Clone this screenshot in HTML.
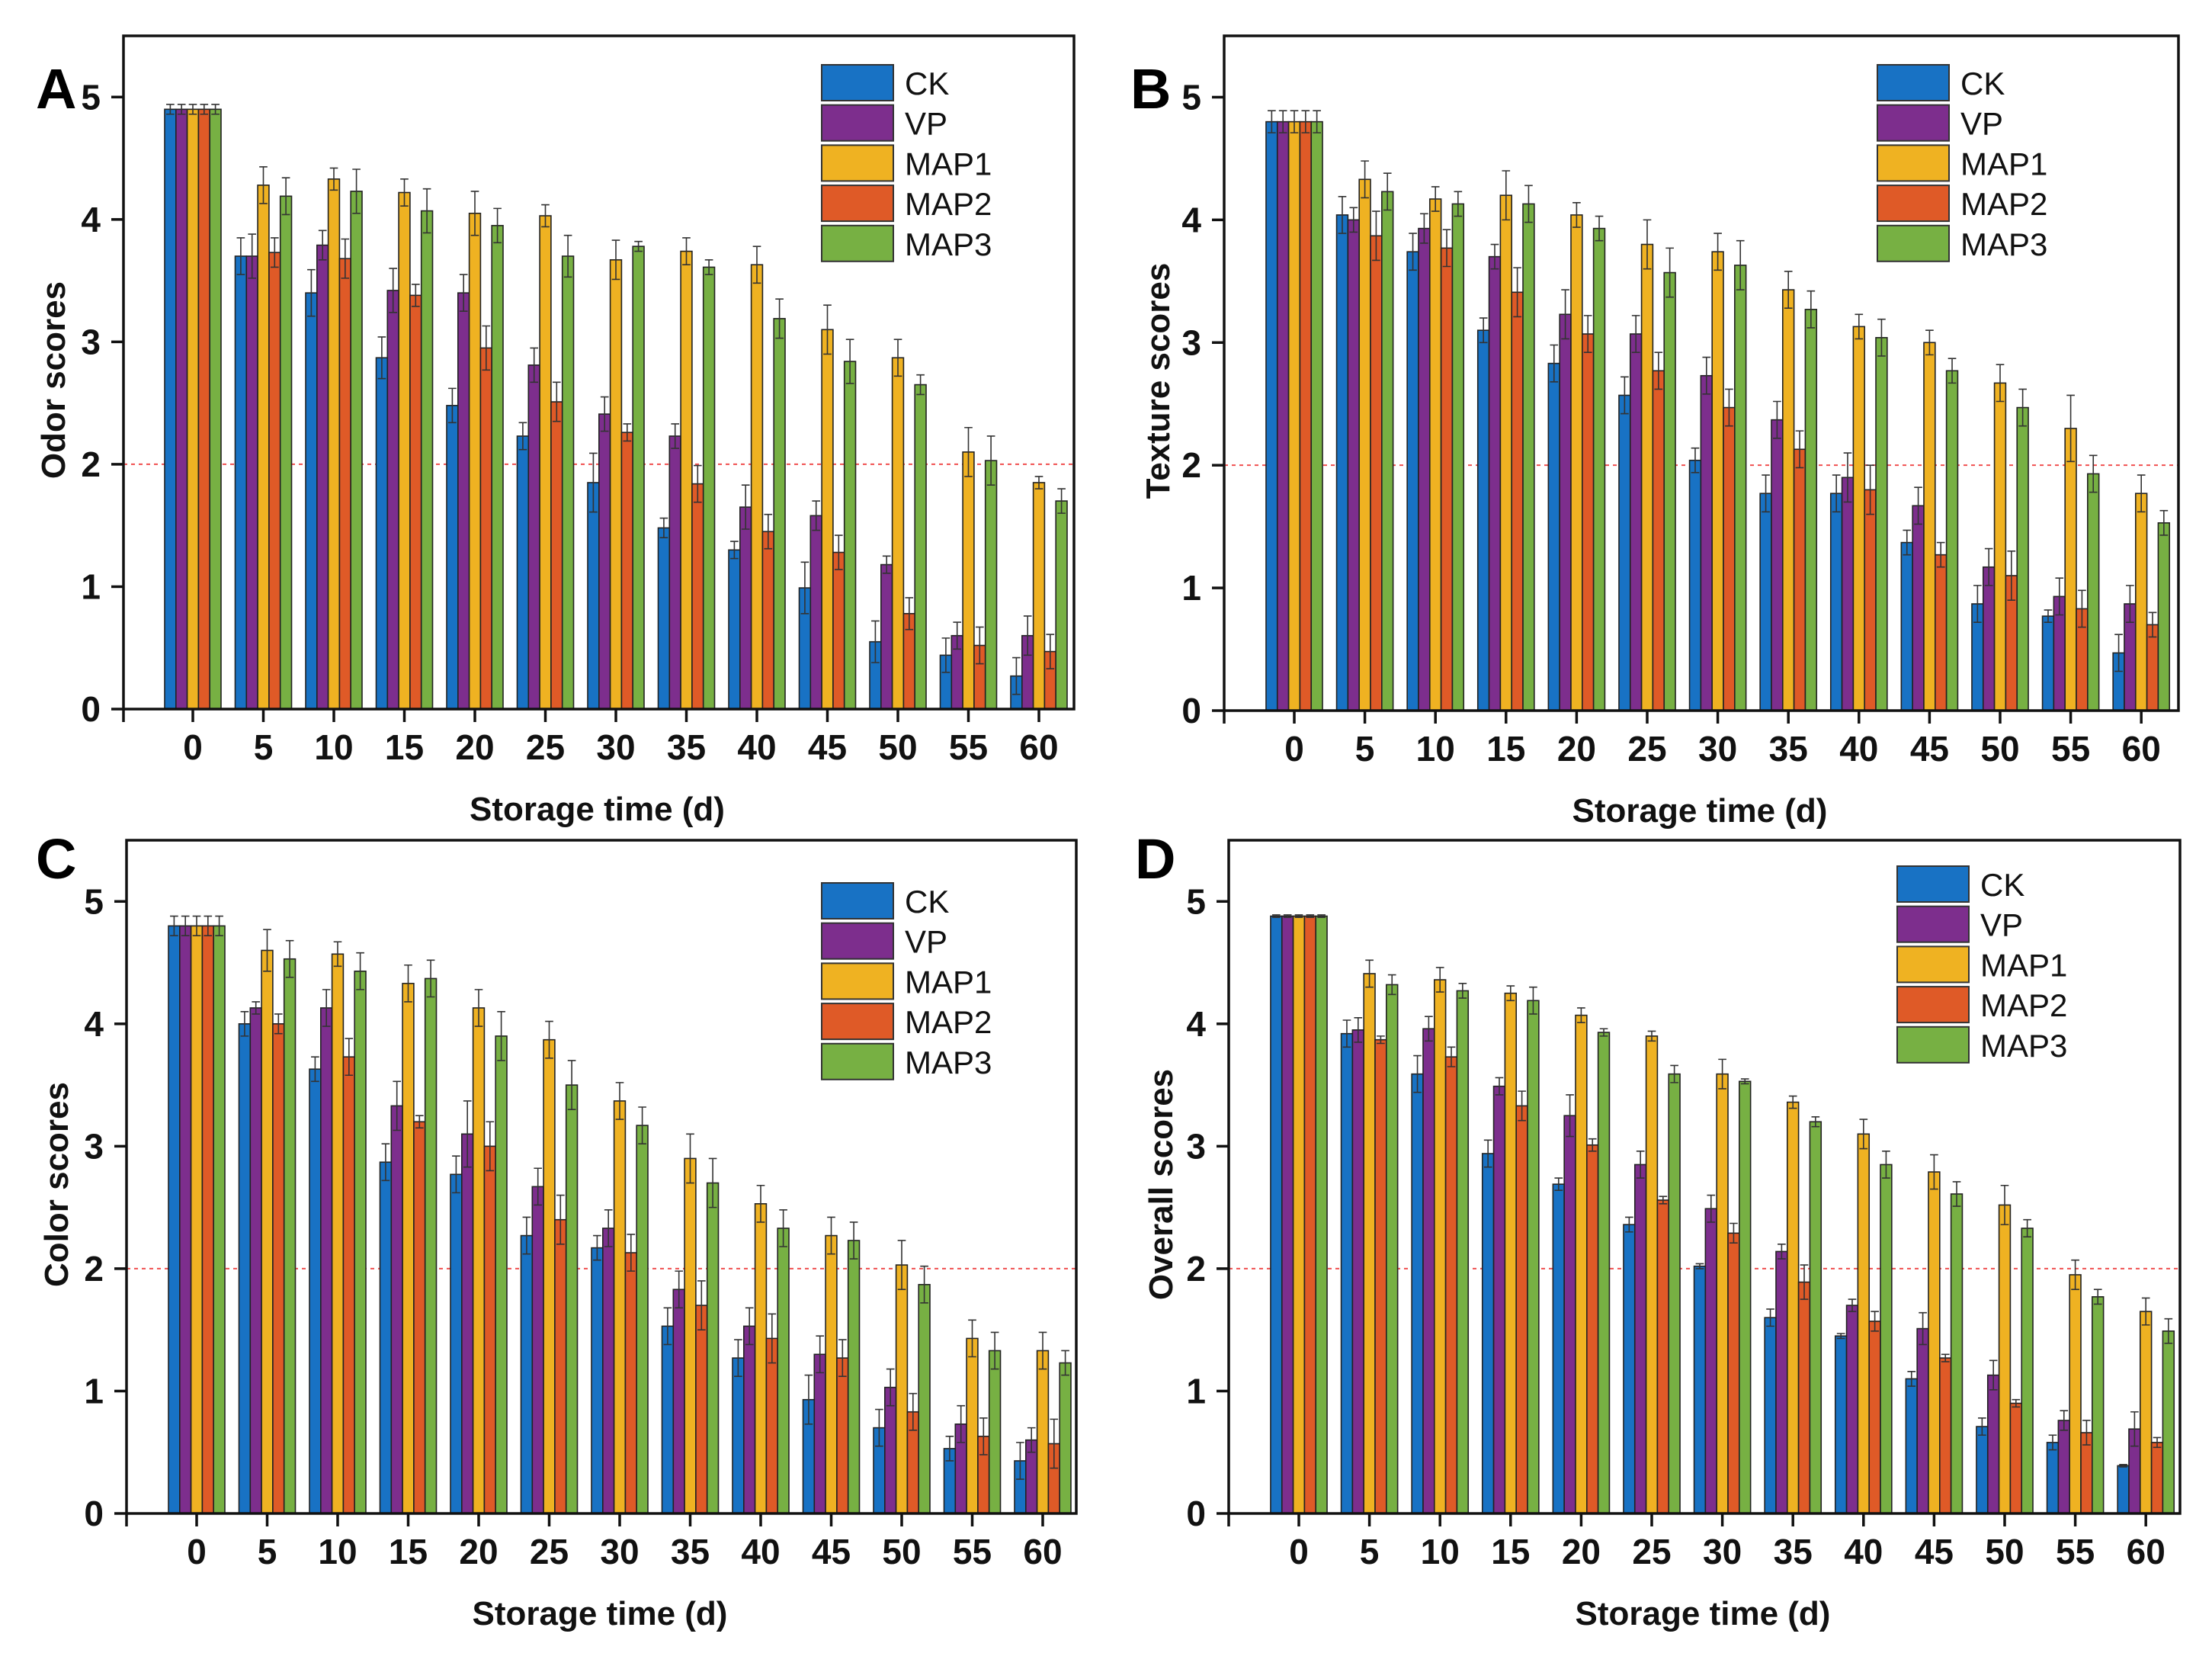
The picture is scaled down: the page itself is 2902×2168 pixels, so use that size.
<!DOCTYPE html>
<html><head><meta charset="utf-8">
<style>
html,body{margin:0;padding:0;background:#fff;}
svg{display:block;font-family:"Liberation Sans",Arial,sans-serif;}
</style></head>
<body>
<svg id="chart" width="2902" height="2168" viewBox="0 0 2902 2168" xmlns="http://www.w3.org/2000/svg"></svg>
<script>
const categories = ["0","5","10","15","20","25","30","35","40","45","50","55","60"];
const seriesNames = ["CK","VP","MAP1","MAP2","MAP3"];
const yTicks = [0,1,2,3,4,5];

// Panel A: Odor
const odorCK   = [4.9,3.7,3.4,2.87,2.48,2.23,1.85,1.48,1.30,0.99,0.55,0.44,0.27];
const odorVP   = [4.9,3.7,3.79,3.42,3.40,2.81,2.41,2.23,1.65,1.58,1.18,0.60,0.60];
const odorMAP1 = [4.9,4.28,4.33,4.22,4.05,4.03,3.67,3.74,3.63,3.10,2.87,2.10,1.85];
const odorMAP2 = [4.9,3.73,3.68,3.38,2.95,2.51,2.26,1.84,1.45,1.28,0.78,0.52,0.47];
const odorMAP3 = [4.9,4.19,4.23,4.07,3.95,3.70,3.78,3.61,3.19,2.84,2.65,2.03,1.70];
const odorErrCK   = [0.04,0.15,0.19,0.17,0.14,0.11,0.24,0.08,0.07,0.21,0.17,0.14,0.15];
const odorErrVP   = [0.04,0.18,0.12,0.18,0.15,0.14,0.14,0.10,0.18,0.12,0.07,0.11,0.16];
const odorErrMAP1 = [0.04,0.15,0.09,0.11,0.18,0.09,0.16,0.11,0.15,0.20,0.15,0.20,0.05];
const odorErrMAP2 = [0.04,0.12,0.16,0.09,0.18,0.16,0.07,0.15,0.14,0.14,0.13,0.15,0.14];
const odorErrMAP3 = [0.04,0.15,0.18,0.18,0.14,0.17,0.04,0.06,0.16,0.18,0.08,0.20,0.10];

// Panel B: Texture
const texCK   = [4.8,4.04,3.74,3.10,2.83,2.57,2.04,1.77,1.77,1.37,0.87,0.77,0.47];
const texVP   = [4.8,4.00,3.93,3.70,3.23,3.07,2.73,2.37,1.90,1.67,1.17,0.93,0.87];
const texMAP1 = [4.8,4.33,4.17,4.20,4.04,3.80,3.74,3.43,3.13,3.00,2.67,2.30,1.77];
const texMAP2 = [4.8,3.87,3.77,3.41,3.07,2.77,2.47,2.13,1.80,1.27,1.10,0.83,0.70];
const texMAP3 = [4.8,4.23,4.13,4.13,3.93,3.57,3.63,3.27,3.04,2.77,2.47,1.93,1.53];
const texErrCK   = [0.09,0.15,0.15,0.10,0.15,0.15,0.10,0.15,0.15,0.10,0.15,0.05,0.15];
const texErrVP   = [0.09,0.10,0.12,0.10,0.20,0.15,0.15,0.15,0.20,0.15,0.15,0.15,0.15];
const texErrMAP1 = [0.09,0.15,0.10,0.20,0.10,0.20,0.15,0.15,0.10,0.10,0.15,0.27,0.15];
const texErrMAP2 = [0.09,0.20,0.15,0.20,0.15,0.15,0.15,0.15,0.20,0.10,0.20,0.15,0.10];
const texErrMAP3 = [0.09,0.15,0.10,0.15,0.10,0.20,0.20,0.15,0.15,0.10,0.15,0.15,0.10];

// Panel C: Color
const colCK   = [4.8,4.00,3.63,2.87,2.77,2.27,2.17,1.53,1.27,0.93,0.70,0.53,0.43];
const colVP   = [4.8,4.13,4.13,3.33,3.10,2.67,2.33,1.83,1.53,1.30,1.03,0.73,0.60];
const colMAP1 = [4.8,4.60,4.57,4.33,4.13,3.87,3.37,2.90,2.53,2.27,2.03,1.43,1.33];
const colMAP2 = [4.8,4.00,3.73,3.20,3.00,2.40,2.13,1.70,1.43,1.27,0.83,0.63,0.57];
const colMAP3 = [4.8,4.53,4.43,4.37,3.90,3.50,3.17,2.70,2.33,2.23,1.87,1.33,1.23];
const colErrCK   = [0.08,0.10,0.10,0.15,0.15,0.15,0.10,0.15,0.15,0.20,0.15,0.10,0.15];
const colErrVP   = [0.08,0.05,0.15,0.20,0.27,0.15,0.15,0.15,0.15,0.15,0.15,0.15,0.10];
const colErrMAP1 = [0.08,0.17,0.10,0.15,0.15,0.15,0.15,0.20,0.15,0.15,0.20,0.15,0.15];
const colErrMAP2 = [0.08,0.08,0.15,0.05,0.20,0.20,0.15,0.20,0.20,0.15,0.15,0.15,0.20];
const colErrMAP3 = [0.08,0.15,0.15,0.15,0.20,0.20,0.15,0.20,0.15,0.15,0.15,0.15,0.10];

// Panel D: Overall
const ovCK   = [4.88,3.92,3.59,2.94,2.69,2.36,2.02,1.60,1.45,1.10,0.71,0.58,0.39];
const ovVP   = [4.88,3.95,3.96,3.49,3.25,2.85,2.49,2.14,1.70,1.51,1.13,0.76,0.69];
const ovMAP1 = [4.88,4.41,4.36,4.25,4.07,3.90,3.59,3.36,3.10,2.79,2.52,1.95,1.65];
const ovMAP2 = [4.88,3.87,3.73,3.33,3.01,2.56,2.29,1.89,1.57,1.27,0.90,0.66,0.58];
const ovMAP3 = [4.88,4.32,4.27,4.19,3.93,3.59,3.53,3.20,2.85,2.61,2.33,1.77,1.49];
const ovErrCK   = [0.01,0.11,0.15,0.11,0.05,0.06,0.02,0.07,0.02,0.06,0.07,0.06,0.01];
const ovErrVP   = [0.01,0.10,0.10,0.07,0.17,0.11,0.11,0.06,0.05,0.13,0.12,0.08,0.14];
const ovErrMAP1 = [0.01,0.11,0.10,0.06,0.06,0.04,0.12,0.05,0.12,0.14,0.16,0.12,0.11];
const ovErrMAP2 = [0.01,0.03,0.08,0.12,0.05,0.03,0.08,0.14,0.08,0.03,0.03,0.10,0.04];
const ovErrMAP3 = [0.01,0.08,0.06,0.11,0.03,0.07,0.02,0.04,0.11,0.10,0.07,0.06,0.10];

const colors = ["#1872c4","#7d2e8d","#efb222","#df5a27","#77b043"];
const NS="http://www.w3.org/2000/svg";
const svg=document.getElementById('chart');
function mk(tag,attrs,parent){const e=document.createElementNS(NS,tag);for(const k in attrs)e.setAttribute(k,attrs[k]);(parent||svg).appendChild(e);return e;}

const panels=[
 {id:"a",letter:"A",title:"Odor scores",vals:[odorCK,odorVP,odorMAP1,odorMAP2,odorMAP3],errs:[odorErrCK,odorErrVP,odorErrMAP1,odorErrMAP2,odorErrMAP3],
  left:162,right:1409,top:47,bottom:930,x0:253,sp:92.5,ytx:70,lx:47,ly:142,legX:1078,legY:85},
 {id:"b",letter:"B",title:"Texture scores",vals:[texCK,texVP,texMAP1,texMAP2,texMAP3],errs:[texErrCK,texErrVP,texErrMAP1,texErrMAP2,texErrMAP3],
  left:1606,right:2858,top:47,bottom:932,x0:1698,sp:92.6,ytx:1519,lx:1483,ly:142,legX:2463,legY:85},
 {id:"c",letter:"C",title:"Color scores",vals:[colCK,colVP,colMAP1,colMAP2,colMAP3],errs:[colErrCK,colErrVP,colErrMAP1,colErrMAP2,colErrMAP3],
  left:166,right:1412,top:1102,bottom:1985,x0:258,sp:92.5,ytx:74,lx:47,ly:1152,legX:1078,legY:1158},
 {id:"d",letter:"D",title:"Overall scores",vals:[ovCK,ovVP,ovMAP1,ovMAP2,ovMAP3],errs:[ovErrCK,ovErrVP,ovErrMAP1,ovErrMAP2,ovErrMAP3],
  left:1612,right:2860,top:1102,bottom:1985,x0:1704,sp:92.6,ytx:1523,lx:1489,ly:1152,legX:2489,legY:1136}
];

panels.forEach(p=>{
  const g=mk('g',{});
  
  
  const ys=v=>p.bottom-v*(p.bottom-p.top)/5.5;
  const xs=i=>p.x0+i*p.sp;
  const bw=p.sp*0.16;
  const th=mk('line',{x1:p.left,x2:p.right,y1:ys(2),y2:ys(2),stroke:"#f05050","stroke-width":2,"stroke-dasharray":"5,5"},g);
  
  
  categories.forEach((c,i)=>{
    for(let s=0;s<5;s++){
      const v=p.vals[s][i], e=p.errs[s][i];
      const bx=xs(i)+(s-2.5)*bw;
      const r=mk('rect',{x:bx,y:ys(v),width:bw,height:p.bottom-ys(v),fill:colors[s],stroke:"#222","stroke-width":1.6},g);
      
      
      const cx=bx+bw/2, cw=bw*0.36;
      const eb=mk('path',{d:`M${cx},${ys(v-e)}V${ys(v+e)}M${cx-cw},${ys(v+e)}H${cx+cw}M${cx-cw},${ys(v-e)}H${cx+cw}`,stroke:"#333","stroke-width":1.6,fill:"none"},g);
      
      
    }
  });
  const fr=mk('path',{d:`M${p.left},${p.bottom}V${p.top}H${p.right}V${p.bottom}H${p.left}`,fill:"none",stroke:"#111","stroke-width":3.5},g);
  
  
  yTicks.forEach(t=>{
    mk('line',{x1:p.left-16,x2:p.left,y1:ys(t),y2:ys(t),stroke:"#111","stroke-width":3.5},g);
    const tx=mk('text',{x:p.left-30,y:ys(t)+16,"text-anchor":"end","font-size":46,"font-weight":"bold",fill:"#111"},g);
    tx.textContent=t;
    
    
  });
  mk('line',{x1:p.left,x2:p.left,y1:p.bottom,y2:p.bottom+17,stroke:"#111","stroke-width":3.5},g);
  categories.forEach((c,i)=>{
    mk('line',{x1:xs(i),x2:xs(i),y1:p.bottom,y2:p.bottom+17,stroke:"#111","stroke-width":3.5},g);
    const tx=mk('text',{x:xs(i),y:p.bottom+66,"text-anchor":"middle","font-size":46,"font-weight":"bold",fill:"#111"},g);
    tx.textContent=c;
    
    
  });
  const xt=mk('text',{x:(p.left+p.right)/2-2,y:p.bottom+146,"text-anchor":"middle","font-size":44,"font-weight":"bold",fill:"#111"},g);
  xt.textContent="Storage time (d)";
  
  
  const cy=(p.top+p.bottom)/2+10;
  const yt=mk('text',{x:p.ytx,y:cy,"text-anchor":"middle","font-size":44,"font-weight":"bold",fill:"#111",transform:`rotate(-90 ${p.ytx} ${cy}) translate(0 15)`},g);
  yt.textContent=p.title;
  
  
  const lt=mk('text',{x:p.lx,y:p.ly,"font-size":74,"font-weight":"bold",fill:"#000"},g);
  lt.textContent=p.letter;
  
  
  seriesNames.forEach((n,s)=>{
    const yy=p.legY+s*52.7;
    const r=mk('rect',{x:p.legX,y:yy,width:94,height:47,fill:colors[s],stroke:"#333","stroke-width":2},g);
    
    
    const t=mk('text',{x:p.legX+109,y:yy+39,"font-size":42,fill:"#111"},g);
    t.textContent=n;
    
    
  });
});
</script>
</body></html>
